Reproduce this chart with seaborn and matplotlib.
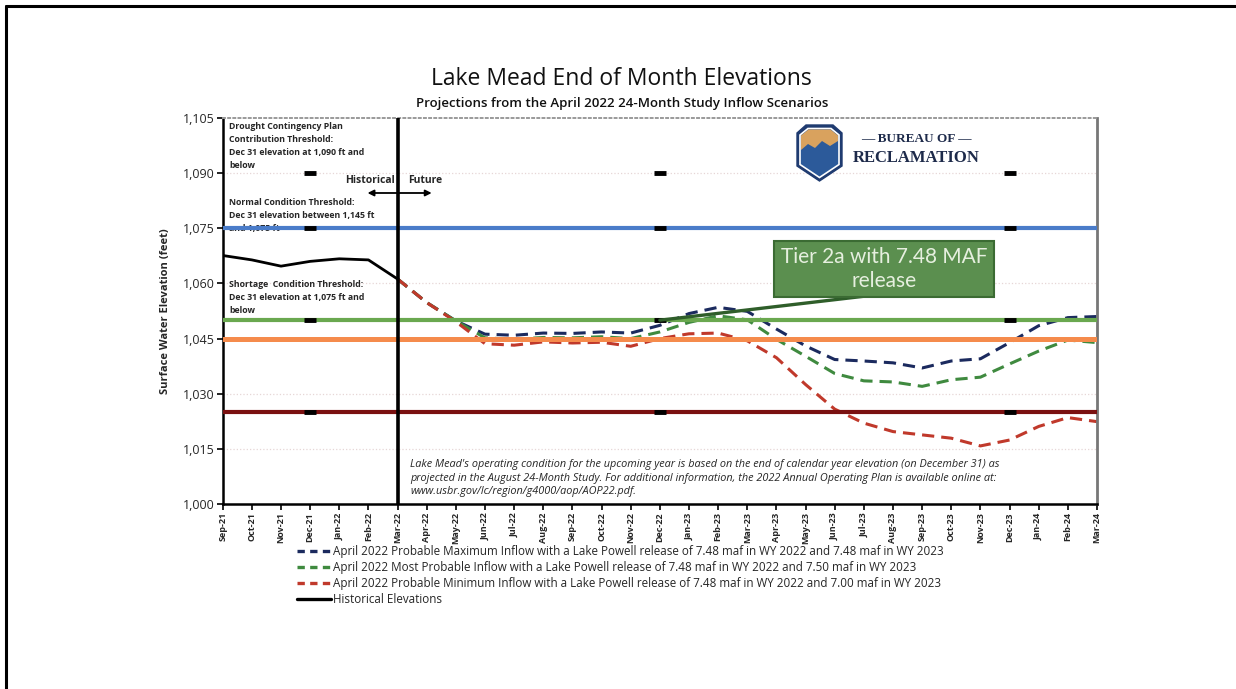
import numpy as np
import pandas as pd
import matplotlib.pyplot as plt
import seaborn as sns
from matplotlib.patches import Polygon
from matplotlib.lines import Line2D

# ---- data ----
months = ['Sep-21', 'Oct-21', 'Nov-21', 'Dec-21', 'Jan-22', 'Feb-22', 'Mar-22',
          'Apr-22', 'May-22', 'Jun-22', 'Jul-22', 'Aug-22', 'Sep-22', 'Oct-22',
          'Nov-22', 'Dec-22', 'Jan-23', 'Feb-23', 'Mar-23', 'Apr-23', 'May-23',
          'Jun-23', 'Jul-23', 'Aug-23', 'Sep-23', 'Oct-23', 'Nov-23', 'Dec-23',
          'Jan-24', 'Feb-24', 'Mar-24']

hist_elev = [1067.6, 1066.4, 1064.7, 1066.0, 1066.7, 1066.4, 1061.2]

# projections start at Mar-22
max_elev = [1061.2, 1054.8, 1049.8, 1046.2, 1045.9, 1046.5, 1046.4, 1046.8, 1046.5,
            1048.6, 1051.8, 1053.5, 1052.4, 1047.6, 1043.0, 1039.3, 1038.9, 1038.4,
            1037.0, 1038.9, 1039.5, 1043.9, 1048.5, 1050.7, 1051.0]
most_elev = [1061.2, 1054.8, 1049.8, 1045.2, 1044.8, 1045.3, 1045.2, 1045.5, 1045.0,
             1046.8, 1049.4, 1051.2, 1050.1, 1044.8, 1040.2, 1035.5, 1033.5, 1033.2,
             1032.0, 1033.8, 1034.5, 1038.1, 1041.6, 1044.6, 1043.9]
min_elev = [1061.2, 1054.8, 1049.6, 1043.6, 1043.2, 1044.1, 1043.8, 1044.0, 1042.9,
            1045.0, 1046.3, 1046.5, 1044.4, 1039.8, 1032.5, 1025.8, 1022.0, 1019.7,
            1018.8, 1017.9, 1015.8, 1017.4, 1021.1, 1023.5, 1022.4]

scenarios = [
    'April 2022 Probable Maximum Inflow with a Lake Powell release of 7.48 maf in WY 2022 and 7.48 maf in WY 2023',
    'April 2022 Most Probable Inflow with a Lake Powell release of 7.48 maf in WY 2022 and 7.50 maf in WY 2023',
    'April 2022 Probable Minimum Inflow with a Lake Powell release of 7.48 maf in WY 2022 and 7.00 maf in WY 2023',
]
scen_colors = ['#1b2a5e', '#3f8a3f', '#c0392b']

thresholds = [1075, 1050, 1045, 1025]
thresh_colors = ['#4a7cc9', '#6aa84f', '#f58b4c', '#7a1010']
thresh_widths = [3.0, 3.0, 3.6, 3.0]

dec_marks = ['Dec-21', 'Dec-22', 'Dec-23']
mark_levels = [1090, 1075, 1050, 1025]

# ---- frames ----
idx = {m: i for i, m in enumerate(months)}
hist = pd.DataFrame({'x': [idx[m] for m in months[:7]], 'elev': hist_elev})
proj = pd.concat([
    pd.DataFrame({'x': [idx[m] for m in months[6:]], 'elev': v, 'scenario': s})
    for s, v in zip(scenarios, [max_elev, most_elev, min_elev])
])

sns.set_theme(style='white')
plt.rcParams['font.family'] = ['Open Sans', 'DejaVu Sans']

fig = plt.figure(figsize=(12.36, 6.89), dpi=100)
fig.patch.set_facecolor('white')
ax = fig.add_axes([222.7 / 1236, 1 - 504 / 689, (1097 - 222.7) / 1236, (504 - 118) / 689])

# faint dotted gridlines
for y in np.arange(1015, 1105, 15):
    ax.axhline(y, color='#e6d6d6', lw=0.9, ls=':', zorder=0)

sns.lineplot(data=proj, x='x', y='elev', hue='scenario', palette=scen_colors,
             hue_order=scenarios, ax=ax, lw=2.2, legend=False, zorder=2)
for line in ax.get_lines()[-3:]:
    line.set_dashes((4.0, 2.3))
sns.lineplot(data=hist, x='x', y='elev', color='black', lw=2.0, ax=ax, zorder=3)

for y, c, w in zip(thresholds, thresh_colors, thresh_widths):
    ax.axhline(y, color=c, lw=w, zorder=4)

# Dec 31 markers
for m in dec_marks:
    ax.plot([idx[m]] * len(mark_levels), mark_levels, ls='none', marker='_',
            ms=9, mew=3.5, color='black', zorder=6)

ax.axvline(idx['Mar-22'], color='black', lw=2.6, zorder=7)

ax.set_xlim(0, len(months) - 1)
ax.set_ylim(1000, 1105)
ax.set_xticks(range(len(months)))
ax.set_xticklabels(months, rotation=90, fontsize=6.5, fontweight='bold')
yt = np.arange(1000, 1106, 15)
ax.set_yticks(yt)
ax.set_yticklabels([f'{v:,}' for v in yt], fontsize=9)
ax.tick_params(bottom=True, left=True, direction='out', length=4, width=1.2,
               color='black', pad=2)
ax.set_xlabel('')
ax.set_ylabel('Surface Water Elevation (feet)', fontsize=8, fontweight='bold', labelpad=8)

for side in ['left', 'bottom']:
    ax.spines[side].set_color('black')
    ax.spines[side].set_linewidth(1.8)
ax.spines['top'].set_color('#9a9a9a')
ax.spines['top'].set_linestyle(':')
ax.spines['top'].set_linewidth(1.4)
ax.spines['right'].set_color('#777777')
ax.spines['right'].set_linewidth(2.0)

# threshold notes
note_kw = dict(fontsize=6.3, fontweight='bold', va='top', ha='left',
               linespacing=1.55, zorder=1)
ax.text(0.22, 1103.9, 'Drought Contingency Plan\nContribution Threshold:\n'
        'Dec 31 elevation at 1,090 ft and\nbelow', **note_kw)
ax.text(0.22, 1083.2, 'Normal Condition Threshold:\n'
        'Dec 31 elevation between 1,145 ft\nand 1,075 ft', **note_kw)
ax.text(0.22, 1060.9, 'Shortage  Condition Threshold:\n'
        'Dec 31 elevation at 1,075 ft and\nbelow', **note_kw)

ax.text(5.92, 1087.9, 'Historical', ha='right', va='center', fontsize=7.5, fontweight='bold')
ax.text(6.36, 1087.9, 'Future', ha='left', va='center', fontsize=7.5, fontweight='bold')
ax.annotate('', xy=(4.97, 1084.6), xytext=(7.17, 1084.6),
            arrowprops=dict(arrowstyle='<|-|>', color='black', lw=1.3,
                            mutation_scale=9, shrinkA=0, shrinkB=0), zorder=8)

ax.text(6.43, 1012.2,
        "Lake Mead's operating condition for the upcoming year is based on the end of calendar "
        "year elevation (on December 31) as\nprojected in the August 24-Month Study. For additional "
        "information, the 2022 Annual Operating Plan is available online at:\n"
        "www.usbr.gov/lc/region/g4000/aop/AOP22.pdf.",
        fontsize=7.8, style='italic', va='top', ha='left', linespacing=1.3)

# Tier 2a callout
ax.annotate('', xy=(idx['Dec-22'], 1050), xytext=(22.1, 1056.6),
            arrowprops=dict(arrowstyle='-', color='#2f5e2a', lw=2.4,
                            shrinkA=0, shrinkB=0), zorder=8)
ax.text(22.7, 1063.9, 'Tier 2a with 7.48 MAF\nrelease', family=['Lato', 'DejaVu Sans'],
        fontsize=15, color='#e6efdf', ha='center', va='center', linespacing=1.2,
        zorder=9, bbox=dict(boxstyle='square,pad=0.32', fc='#5b8f4f', ec='#3b6b33', lw=1.5))

# Reclamation logo
def fx(px):
    return px / 1236

def fy(py):
    return 1 - py / 689

shield = [(797, 133), (806, 125), (833, 125), (842, 133), (842, 166), (819.5, 181), (797, 166)]
fig.patches.append(Polygon([(fx(a), fy(b)) for a, b in shield], closed=True,
                           fc='#1f3b70', ec='#1f3b70', lw=1, transform=fig.transFigure))
inner = [(800, 135), (808, 128.5), (831, 128.5), (839, 135), (839, 164.5), (819.5, 177.5), (800, 164.5)]
fig.patches.append(Polygon([(fx(a), fy(b)) for a, b in inner], closed=True,
                           fc='#2c5a9a', ec='white', lw=1.2, transform=fig.transFigure))
top = [(801, 135.5), (808.5, 129.5), (830.5, 129.5), (838, 135.5), (838, 141), (830, 146),
       (822, 141), (815, 148), (808, 144), (801, 150)]
fig.patches.append(Polygon([(fx(a), fy(b)) for a, b in top], closed=True,
                           fc='#d9a25e', ec='none', transform=fig.transFigure))
fig.text(fx(916), fy(139), '— BUREAU OF —', family=['Liberation Serif'], fontweight='bold',
         fontsize=9.5, color='#1d2a4a', ha='center', va='center')
fig.text(fx(916), fy(158), 'RECLAMATION', family=['Liberation Serif'], fontweight='bold',
         fontsize=12, color='#1d2a4a', ha='center', va='center')

# titles
fig.text(0.503, fy(79), 'Lake Mead End of Month Elevations', fontsize=16.5,
         ha='center', va='center', color='#111111')
fig.text(0.503, fy(103), 'Projections from the April 2022 24-Month Study Inflow Scenarios',
         fontsize=9.5, fontweight='semibold', ha='center', va='center', color='#111111')

# legend
handles = [Line2D([0], [0], color=c, lw=2.4, dashes=(2.2, 1.6)) for c in scen_colors]
handles.append(Line2D([0], [0], color='black', lw=2.4))
labels = scenarios + ['Historical Elevations']
fig.legend(handles, labels, loc='upper left', bbox_to_anchor=(fx(291), fy(539)),
           frameon=False, fontsize=8.4, handlelength=2.9, handletextpad=0.2,
           labelspacing=0.26, borderpad=0)

# slide frame (top and left edges)
fig.add_artist(Line2D([fx(6), 1.0], [fy(6), fy(6)], color='black', lw=2.2,
                      transform=fig.transFigure))
fig.add_artist(Line2D([fx(6), fx(6)], [fy(6), 0.0], color='black', lw=2.2,
                      transform=fig.transFigure))

fig.savefig('out.png', dpi=100)
